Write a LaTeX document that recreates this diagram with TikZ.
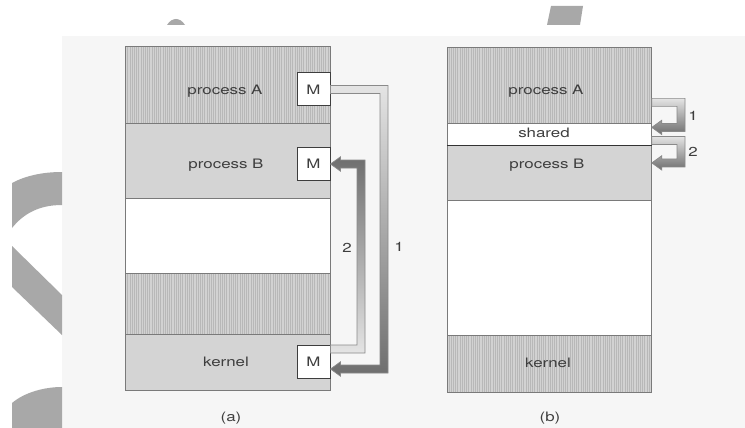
\documentclass[tikz,border=0pt]{standalone}
\usepackage{fontspec}
\newfontfamily\figfont[FakeStretch=1.3]{TeX Gyre Heros}
\usetikzlibrary{patterns.meta,calc}
\definecolor{ink}{HTML}{3E3E3E}
\definecolor{edge}{HTML}{7A7A7A}
\definecolor{hatchbg}{HTML}{D2D2D2}
\definecolor{hatchln}{HTML}{B8B8B8}
\definecolor{stip}{HTML}{D4D4D4}
\definecolor{markgray}{HTML}{A8A8A8}
\definecolor{pagebg}{HTML}{F6F6F6}
\definecolor{arrowedge}{HTML}{8A8A8A}
\definecolor{arrowlight}{HTML}{E4E4E4}
\definecolor{arrowdark}{HTML}{6E6E6E}
\newcommand\bentarrow[5]{%
  \path[shade, top color=#4, bottom color=#5, draw=arrowedge, line width=0.7pt, line join=miter]
    let \p1=(#1), \p2=(#2), \p3=(#3), \n1={(\y1>\y2)?4:-4} in
    (\x1,\y1+\n1*1pt) -- (\x3+4pt,\y1+\n1*1pt) -- (\x3+4pt,\y2-\n1*1pt)
    -- (\x2+10pt,\y2-\n1*1pt) -- (\x2+10pt,\y2-1.8*\n1*1pt) -- (\x2,\y2)
    -- (\x2+10pt,\y2+1.8*\n1*1pt) -- (\x2+10pt,\y2+\n1*1pt) -- (\x3-4pt,\y2+\n1*1pt)
    -- (\x3-4pt,\y1-\n1*1pt) -- (\x1,\y1-\n1*1pt) -- cycle;}
\begin{document}
\begin{tikzpicture}[x=1pt,y=-1pt,
  lbl/.style={font=\figfont\fontsize{13}{15}\selectfont, text=ink, inner sep=0pt},
  region/.style={draw=edge, line width=0.8pt, inner sep=0pt, anchor=north west},
  hatched/.style={region, preaction={fill=hatchbg}, pattern={Lines[angle=90,distance=2.2pt,line width=0.6pt]}, pattern color=hatchln},
  stippled/.style={region, fill=stip},
  blank/.style={region, fill=white},
  mbox/.style={lbl, draw=ink, line width=1pt, fill=white, minimum width=33pt, minimum height=33pt}]
\useasboundingbox (0,0) rectangle (745,428);
\fill[white] (0,0) rectangle (745,428);
\fill[pagebg] (62,36) rectangle (745,428);
% decorative gray marks
\fill[markgray] (12,183) .. controls (25,176) and (42,172) .. (62,172) -- (62,205)
  .. controls (40,205) and (24,213) .. (12,228) -- cycle;
\fill[markgray] (12,246) -- (62,295) -- (62,335) -- (12,287) -- cycle;
\fill[markgray] (12,428) -- (12,403) .. controls (25,392) and (45,387) .. (62,387) -- (62,428) -- cycle;
\fill[markgray] (167,25) .. controls (172,17) and (180,17) .. (185,25) -- cycle;
\fill[markgray] (551,6) -- (583,6) -- (580,25) -- (547,25) -- cycle;
% (a)
\node[hatched, minimum width=205pt, minimum height=77pt] (aA) at (125,46) {};
\node[stippled, minimum width=205pt, minimum height=75pt] (aB) at (125,123) {};
\node[blank, minimum width=205pt, minimum height=75pt] (aF) at (125,198) {};
\node[hatched, minimum width=205pt, minimum height=61pt] (aH) at (125,273) {};
\node[stippled, minimum width=205pt, minimum height=56pt] (aK) at (125,334) {};
\node[lbl] (tA) at (225,91) {process A};
\node[lbl] (tB) at (226,165) {process B};
\node[lbl] (tK) at (226,362) {kernel};
\node[mbox] (mA) at (313.5,89.5) {M};
\node[mbox] (mB) at (313.5,164) {M};
\node[mbox] (mK) at (313.5,362) {M};
\coordinate (v1) at (384,0);
\coordinate (v2) at (361,0);
\bentarrow{mA.east}{[yshift=-7pt]mK.east}{v1}{arrowlight}{arrowdark}
\bentarrow{[yshift=13pt]mK.east}{mB.east}{v2}{arrowdark}{arrowlight}
\node[lbl] (n2a) at (347,248) {2};
\node[lbl] (n1a) at (399,247) {1};
\node[lbl] (capa) at (231,418) {(a)};
% (b)
\node[hatched, minimum width=204pt, minimum height=76pt] (bA) at (447,47) {};
\node[blank, minimum width=204pt, minimum height=22pt] (bS) at (447,123) {};
\node[stippled, minimum width=204pt, minimum height=55pt] (bB) at (447,145) {};
\node[blank, minimum width=204pt, minimum height=135pt] (bF) at (447,200) {};
\node[hatched, minimum width=204pt, minimum height=57pt] (bK) at (447,335) {};
\draw[line width=1.3pt, black!80] (bS.south west) -- (bS.south east);
\node[lbl] (uA) at (546,91) {process A};
\node[lbl] (uS) at (544,133) {shared};
\node[lbl] (uB) at (547,165) {process B};
\node[lbl] (uK) at (548,363) {kernel};
\coordinate (v3) at (681,0);
\bentarrow{[yshift=-17pt]bA.east}{[yshift=7pt]bS.east}{v3}{arrowlight}{arrowdark}
\bentarrow{[yshift=-6pt]bS.east}{[yshift=10pt]bB.east}{v3}{arrowlight}{arrowdark}
\node[lbl] (n1b) at (693,116) {1};
\node[lbl] (n2b) at (693,152) {2};
\node[lbl] (capb) at (550,418) {(b)};
\end{tikzpicture}
\end{document}
